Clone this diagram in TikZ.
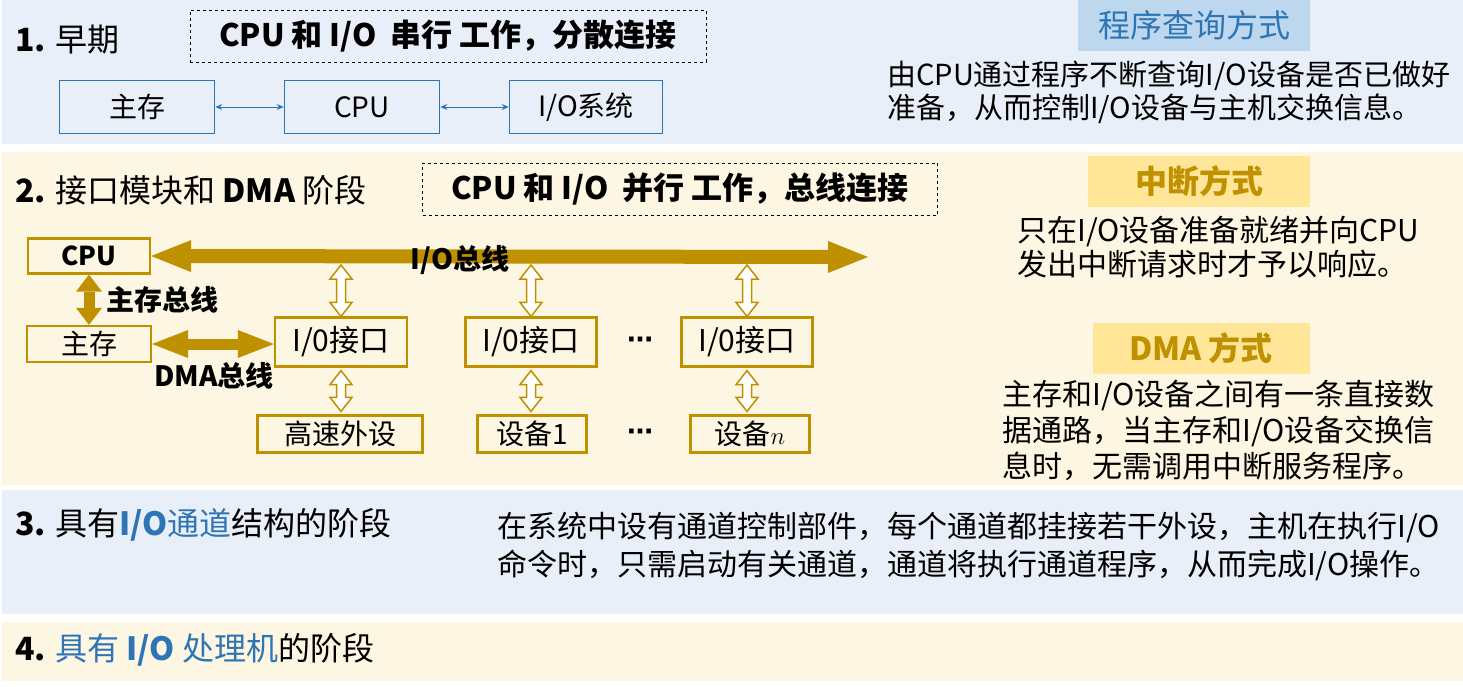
\documentclass[tikz,border=0pt]{standalone}
\usepackage{fontspec}
\setmainfont{Noto Sans CJK SC}
\newfontfamily\dotfont{DejaVu Sans}
\usetikzlibrary{arrows.meta,calc}
\definecolor{bandblue}{RGB}{233,239,248}
\definecolor{bandcream}{RGB}{253,246,226}
\definecolor{boxblue}{RGB}{46,117,182}
\definecolor{hdrblue}{RGB}{189,215,238}
\definecolor{gold}{RGB}{191,144,0}
\definecolor{hdrgold}{RGB}{255,230,153}

\begin{document}
\begin{tikzpicture}[x=1pt, y=-1pt,
    stage/.style={anchor=west, inner sep=0pt, font=\fontsize{32}{36}\selectfont},
    modebox/.style={draw, dashed, line width=0.9pt, minimum width=#1, minimum height=52pt, inner sep=0pt, font=\bfseries\fontsize{31}{34}\selectfont},
    bbox/.style={draw=boxblue, line width=1.5pt, minimum width=#1, minimum height=53pt, inner sep=0pt, font=\fontsize{28}{32}\selectfont},
    gbox/.style={draw=gold, line width=2.2pt, minimum width=#1, inner sep=0pt, font=\fontsize{28}{32}\selectfont},
    hdr/.style={fill=#1, minimum height=51pt, inner sep=0pt},
    desc/.style={anchor=north west, align=left, inner sep=0pt},
    buslbl/.style={inner sep=0pt, font=\bfseries\fontsize{28}{32}\selectfont},
    dotlbl/.style={inner sep=0pt, font=\dotfont\bfseries\fontsize{26}{30}\selectfont},
    link/.style={{Stealth[length=7pt,width=6pt]}-{Stealth[length=7pt,width=6pt]}, draw=boxblue, line width=1pt},
    fatarrow/.style n args={3}{draw=gold, line width=#1,
      {Triangle[length=#2,width=#3,line width=0pt]}-{Triangle[length=#2,width=#3,line width=0pt]}},
    hollow/.style={draw=gold, line width=1.5pt, fill=white,
      to path={let \p1=(\tikztostart), \p2=(\tikztotarget) in
        (\x1,\y1) -- (\x1+11pt,\y1-14pt) -- (\x1+4.5pt,\y1-14pt) -- (\x1+4.5pt,\y2+14pt)
        -- (\x1+11pt,\y2+14pt) -- (\x1,\y2) -- (\x1-11pt,\y2+14pt) -- (\x1-4.5pt,\y2+14pt)
        -- (\x1-4.5pt,\y1-14pt) -- (\x1-11pt,\y1-14pt) -- cycle}},
  ]
    \useasboundingbox (0,0) rectangle (1463,686);
    % bands
    \fill[white] (0,0) rectangle (1463,686);
    \fill[bandblue]  (2,0)   rectangle (1463,144);
    \fill[bandcream] (2,152) rectangle (1463,485);
    \fill[bandblue]  (2,490) rectangle (1463,614);
    \fill[bandcream] (2,622) rectangle (1463,681);

    % 1. early stage
    \node[stage] (stage1) at (15,40) {\textbf{1.} 早期};
    \node[modebox=516] (mode1) at (448,36) {CPU 和 I/O\ \ 串行 工作，分散连接};
    \node[bbox=155] (mem1) at (137,107) {主存};
    \node[bbox=155] (cpu1) at (362,107) {CPU};
    \node[bbox=153] (io1)  at (586,107) {I/O系统};
    \draw[link] (mem1) -- (cpu1);
    \draw[link] (cpu1) -- (io1);

    \node[hdr=hdrblue, minimum width=232pt, text=boxblue, font=\fontsize{32}{36}\selectfont] (hdrpoll) at (1194,25) {程序查询方式};
    \node[desc, font=\fontsize{29}{33}\selectfont] (descpoll) at (887,61)
      {由CPU通过程序不断查询I/O设备是否已做好\\准备，从而控制I/O设备与主机交换信息。};

    % 2. interface module and DMA
    \node[stage] (stage2) at (15,190) {\textbf{2.} 接口模块和 \textbf{DMA} 阶段};
    \node[modebox=515] (mode2) at (680,189) {CPU 和 I/O\ \ 并行 工作，总线连接};

    \node[gbox=122, minimum height=35pt, font=\bfseries\fontsize{26}{30}\selectfont] (cpu2) at (89,256) {CPU};
    \node[gbox=124, minimum height=36pt] (mem2) at (89,344) {主存};
    \node[gbox=132, minimum height=49pt, font=\fontsize{30}{34}\selectfont] (ifc1) at (341,342) {I/0接口};
    \node[gbox=131, minimum height=49pt, font=\fontsize{30}{34}\selectfont] (ifc2) at (531,342) {I/0接口};
    \node[gbox=131, minimum height=49pt, font=\fontsize{30}{34}\selectfont] (ifc3) at (747,342) {I/0接口};
    \node[gbox=165, minimum height=37pt] (dev1) at (340,434) {高速外设};
    \node[gbox=109, minimum height=37pt] (dev2) at (532,434) {设备1};
    \node[gbox=119, minimum height=37pt] (dev3) at (750,434) {设备$n$};
    \node[dotlbl] (dotsA) at (640,343) {⋯};
    \node[dotlbl] (dotsB) at (640,435) {⋯};

    \coordinate (busend) at (868,257);
    \draw[fatarrow={14pt}{40pt}{32pt}] (cpu2.east) -- (busend);
    \draw[fatarrow={11pt}{17pt}{26pt}] (cpu2.south) -- (mem2.north);
    \draw[fatarrow={11pt}{36pt}{28pt}] (mem2.east) -- (mem2.east -| ifc1.west);
    \node[buslbl] (buslbl) at (460,260) {I/O总线};
    \node[buslbl, anchor=west] (memlbl) at (106,300) {主存总线};
    \node[buslbl] (dmalbl) at (214,376) {DMA总线};

    \foreach \i/\d in {ifc1/dev1, ifc2/dev2, ifc3/dev3} {
      \draw[hollow] ($(\i.north |- busend)+(0,8)$) to (\i.north);
      \draw[hollow] ($(\i.south)+(0,3)$) to ($(\i.south |- \d.north)+(0,-3)$);
    }

    \node[hdr=hdrgold, minimum width=222pt, text=gold, font=\bfseries\fontsize{32}{36}\selectfont] (hdrint) at (1199,181) {中断方式};
    \node[desc, font=\fontsize{30}{34}\selectfont] (descint) at (1017,216)
      {只在I/O设备准备就绪并向CPU\\发出中断请求时才予以响应。};
    \node[hdr=hdrgold, minimum width=217pt, text=gold, font=\bfseries\fontsize{32}{36}\selectfont] (hdrdma) at (1201,348) {DMA 方式};
    \node[desc, font=\fontsize{30}{36}\selectfont] (descdma) at (1002,380)
      {主存和I/O设备之间有一条直接数\\据通路，当主存和I/O设备交换信\\息时，无需调用中断服务程序。};

    % 3. channel
    \node[stage] (stage3) at (15,525) {\textbf{3.} 具有\textcolor{boxblue}{\textbf{I/O}通道}结构的阶段};
    \node[desc, font=\fontsize{30}{38}\selectfont] (descchan) at (497,512)
      {在系统中设有通道控制部件，每个通道都挂接若干外设，主机在执行I/O\\命令时，只需启动有关通道，通道将执行通道程序，从而完成I/O操作。};

    % 4. processor
    \node[stage] (stage4) at (15,650) {\textbf{4.} \textcolor{boxblue}{具有 \textbf{I/O} 处理机}的阶段};
\end{tikzpicture}
\end{document}
